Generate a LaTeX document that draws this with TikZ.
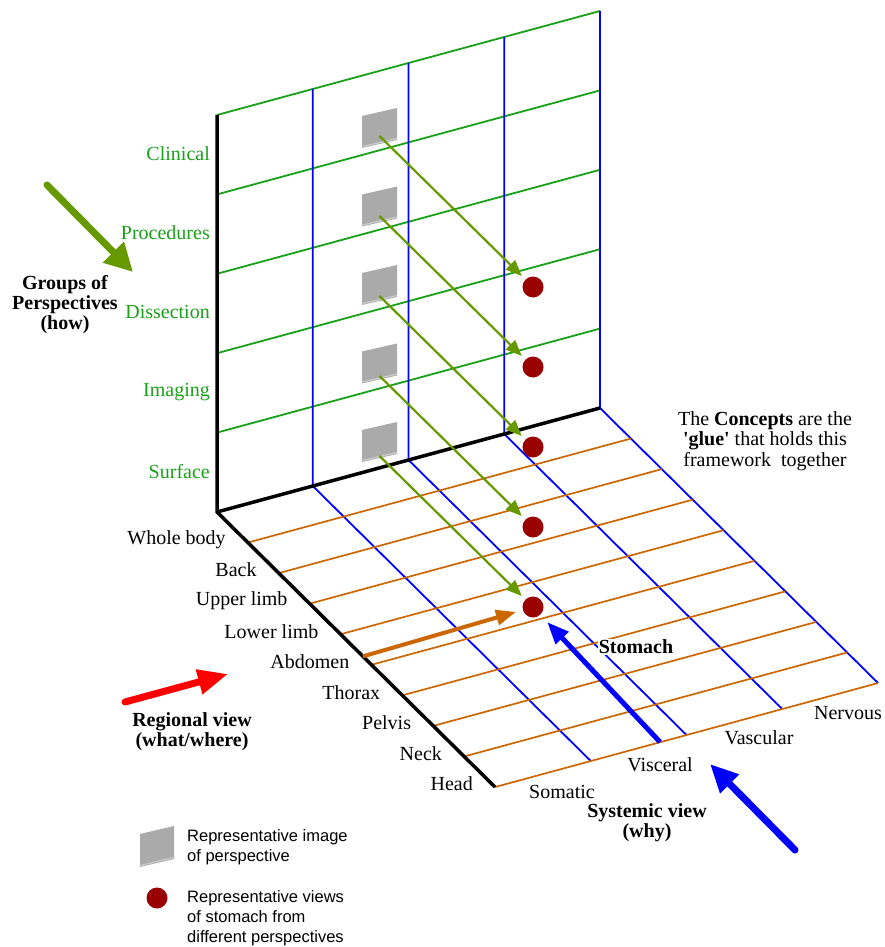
\documentclass[tikz,border=0pt]{standalone}
\usepackage{fontspec}
\setmainfont{Liberation Serif}
\newfontfamily\legendfont{Liberation Sans}
\usetikzlibrary{arrows.meta,calc}
\definecolor{wallgreen}{RGB}{25,160,25}
\definecolor{gridblue}{RGB}{0,0,255}
\definecolor{floororange}{RGB}{204,102,0}
\definecolor{olivearrow}{RGB}{102,153,0}
\definecolor{dotred}{RGB}{153,0,0}
\definecolor{imggray}{RGB}{170,170,170}
\definecolor{imgedge}{RGB}{205,205,205}
\definecolor{bigred}{RGB}{255,0,0}
\begin{document}
\begin{tikzpicture}[x=1pt,y=-1pt,
  font=\fontsize{20}{20.5}\selectfont,
  gline/.style={wallgreen, line width=1.8pt},
  bline/.style={gridblue, line width=1.8pt},
  oline/.style={floororange, line width=1.7pt},
  axisline/.style={black, line width=3.5pt, line join=miter},
  link/.style={olivearrow, line width=2.2pt, -{Triangle[length=16pt,width=13pt]}, shorten >=5pt},
  dot/.style={circle, fill=dotred, minimum size=21pt, inner sep=0pt},
  glabel/.style={wallgreen, anchor=east, inner sep=0pt},
  rlabel/.style={anchor=east, inner sep=0pt},
  slabel/.style={inner sep=0pt},
  boldlabel/.style={font=\fontsize{20}{20}\selectfont\bfseries, align=center, inner sep=0pt},
  legendtext/.style={font=\legendfont\fontsize{16.5}{20}\selectfont, align=left, anchor=west, inner sep=0pt},
  bigarrow/.style={line width=7pt, line cap=round}
]
\useasboundingbox (0,0) rectangle (885,947);

% ---- vertical wall: green rows
\foreach \i in {0,...,4}
  \draw[gline] (217,{115+\i*79.4}) -- ++(383,-104);
% ---- blue columns (wall + floor)
\foreach \i in {1,2,3}
  \draw[bline] ({217+\i*95.75},{115-\i*26}) -- ({217+\i*95.75},{512-\i*26}) -- ++(278,275);
\draw[bline] (600,11) -- (600,408) -- (878,683);
% ---- floor: orange rows
\foreach \i in {1,...,9}
  \draw[oline] ({217+\i*30.89},{512+\i*30.56}) -- ++(383,-104);
% ---- black axes
\draw[axisline] (217,115) -- (217,512) -- (495,787);
\draw[axisline] (217,512) -- (600,408);

% ---- perspective labels
\foreach \n [count=\i] in {Clinical,Procedures,Dissection,Imaging,Surface}
  \node[glabel] (p\i) at (210,{153.5+(\i-1)*79.4}) {\n};

% ---- region labels
\foreach \n [count=\i] in {Whole body,Back,Upper limb,Lower limb,Abdomen,Thorax,Pelvis,Neck,Head}
  \node[rlabel] (r\i) at ({217+\i*30.89-22},{512+\i*30.56-3}) {\n};

% ---- system labels
\node[slabel] (sys1) at (562,792) {Somatic};
\node[slabel] (sys2) at (660,765) {Visceral};
\node[slabel] (sys3) at (759,738) {Vascular};
\node[slabel] (sys4) at (848,713) {Nervous};

% ---- stomach label (white background)
\node[font=\fontsize{20}{20}\selectfont\bfseries, fill=white, inner sep=1pt] (stomach) at (636,647) {Stomach};

% ---- representative images (gray squares)
\foreach \i in {1,...,5}{
  \fill[imggray] (362,{116+78.5*(\i-1)}) -- ++(35,-8) -- ++(0,32) -- ++(-35,8) -- cycle;
  \draw[imgedge, line width=1.2pt] (362.5,{146.5+78.5*(\i-1)}) -- ++(34.5,-8);
  \coordinate (s\i) at (379.5,{136+80*(\i-1)});
}
% ---- stomach views (red dots)
\foreach \i in {1,...,5}
  \node[dot] (c\i) at (533,{287+80*(\i-1)}) {};
% ---- links
\foreach \i in {1,...,5}
  \draw[link] (s\i) -- (c\i);

% ---- orange regional arrow to stomach
\coordinate (abd) at ($(217,512)!0.525!(495,787)$);
\draw[floororange, line width=4pt, -{Triangle[length=20pt,width=15pt]}, shorten >=7pt] (abd) -- (c5);
% ---- blue systemic arrow to stomach
\coordinate (visc) at (660,742);
\draw[gridblue, line width=5pt, -{Triangle[length=22pt,width=17pt]}, shorten >=10pt] (visc) -- (c5);

% ---- big view arrows
\coordinate (gA) at (47,185);
\coordinate (gB) at (133,272);
\draw[bigarrow, olivearrow, -{Triangle[length=28pt,width=28pt]}] (gA) -- (gB);
\coordinate (rA) at (125,702);
\coordinate (rB) at (228,674);
\draw[bigarrow, bigred, -{Triangle[length=30pt,width=24pt]}] (rA) -- (rB);
\coordinate (bA) at (795,850);
\coordinate (bB) at (710,764);
\draw[bigarrow, gridblue, -{Triangle[length=28pt,width=25pt]}] (bA) -- (bB);

% ---- view titles
\node[boldlabel] (groups) at (65,305) {Groups of\\Perspectives\\(how)};
\node[boldlabel] (regional) at (192,732) {Regional view\\(what/where)};
\node[boldlabel] (systemic) at (647,823) {Systemic view\\(why)};
\node[align=center, inner sep=0pt, font=\fontsize{20}{20.5}\selectfont] (concepts) at (765,441)
  {The \textbf{Concepts} are the\\\textbf{\textquotesingle glue\textquotesingle} that holds this\\framework~ together};

% ---- legend
\fill[imggray] (140,834) -- (174,826) -- (174,859) -- (140,867) -- cycle;
\draw[imgedge, line width=1.2pt] (140.5,865.5) -- (173.5,857.5);
\node[legendtext] (leg1) at (187,847) {Representative image\\of perspective};
\node[dot] (legdot) at (157,898) {};
\node[legendtext] (leg2) at (187,918) {Representative views\\of stomach from\\different perspectives};
\end{tikzpicture}
\end{document}
